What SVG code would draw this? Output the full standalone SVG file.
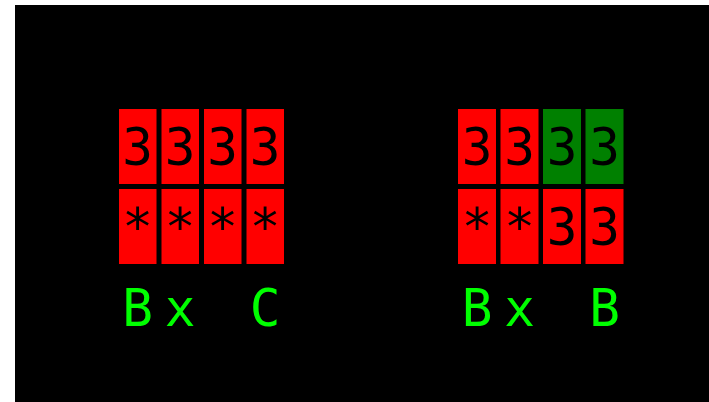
<svg xmlns="http://www.w3.org/2000/svg" width="709" height="402" viewBox="0 0 709 402">
<style>
.r{fill:#ff0000}
.g{fill:#008000}
.t{font-family:"DejaVu Sans Mono","Liberation Mono",monospace;font-size:51px;text-anchor:middle;fill:#000}
.l{font-family:"DejaVu Sans Mono","Liberation Mono",monospace;font-size:51px;text-anchor:middle;fill:#00ff00}
</style>
<rect x="0" y="0" width="709" height="402" fill="#ffffff"/>
<rect x="15" y="5" width="694" height="397" fill="#000000"/>
<g id="left-group">
<g id="L-r1c1"><rect class="r" x="119" y="109" width="37.5" height="75"/><text class="t" x="137.5" y="165">3</text></g>
<g id="L-r1c2"><rect class="r" x="161.5" y="109" width="37.5" height="75"/><text class="t" x="180" y="165">3</text></g>
<g id="L-r1c3"><rect class="r" x="204" y="109" width="37.5" height="75"/><text class="t" x="222.5" y="165">3</text></g>
<g id="L-r1c4"><rect class="r" x="246.5" y="109" width="37.5" height="75"/><text class="t" x="265" y="165">3</text></g>
<g id="L-r2c1"><rect class="r" x="119" y="189" width="37.5" height="75"/><text class="t" x="137.5" y="245">*</text></g>
<g id="L-r2c2"><rect class="r" x="161.5" y="189" width="37.5" height="75"/><text class="t" x="180" y="245">*</text></g>
<g id="L-r2c3"><rect class="r" x="204" y="189" width="37.5" height="75"/><text class="t" x="222.5" y="245">*</text></g>
<g id="L-r2c4"><rect class="r" x="246.5" y="189" width="37.5" height="75"/><text class="t" x="265" y="245">*</text></g>
<g id="L-label"><text class="l" x="137.5" y="326">B</text><text class="l" x="180" y="326">x</text><text class="l" x="265" y="326">C</text></g>
</g>
<g id="right-group">
<g id="R-r1c1"><rect class="r" x="458" y="109" width="38" height="75"/><text class="t" x="477" y="165">3</text></g>
<g id="R-r1c2"><rect class="r" x="500.5" y="109" width="38" height="75"/><text class="t" x="519.5" y="165">3</text></g>
<g id="R-r1c3"><rect class="g" x="543" y="109" width="38" height="75"/><text class="t" x="562" y="165">3</text></g>
<g id="R-r1c4"><rect class="g" x="585.5" y="109" width="38" height="75"/><text class="t" x="604.5" y="165">3</text></g>
<g id="R-r2c1"><rect class="r" x="458" y="189" width="38" height="75"/><text class="t" x="477" y="245">*</text></g>
<g id="R-r2c2"><rect class="r" x="500.5" y="189" width="38" height="75"/><text class="t" x="519.5" y="245">*</text></g>
<g id="R-r2c3"><rect class="r" x="543" y="189" width="38" height="75"/><text class="t" x="562" y="245">3</text></g>
<g id="R-r2c4"><rect class="r" x="585.5" y="189" width="38" height="75"/><text class="t" x="604.5" y="245">3</text></g>
<g id="R-label"><text class="l" x="477" y="326">B</text><text class="l" x="519.5" y="326">x</text><text class="l" x="604.5" y="326">B</text></g>
</g>
<g id="connectors"/>
</svg>
